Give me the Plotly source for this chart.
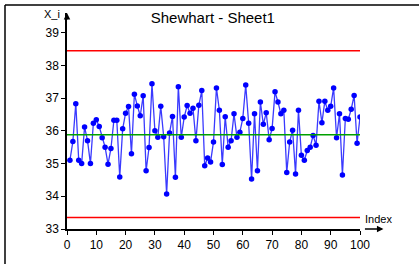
import plotly.graph_objects as go

index = list(range(1, 101))
values = [
    35.1, 35.67, 36.83, 35.1, 35.0, 36.12, 35.7, 35.0, 36.23, 36.34,
    36.13, 35.79, 35.5, 34.98, 35.46, 36.32, 36.32, 34.59, 36.06, 36.54,
    36.74, 35.3, 37.12, 36.76, 36.46, 37.07, 34.78, 35.49, 37.44, 36.0,
    35.8, 36.75, 35.82, 34.07, 35.93, 36.44, 34.58, 37.35, 35.8, 36.42,
    36.77, 36.54, 36.69, 35.7, 36.78, 37.23, 34.93, 35.17, 35.05, 35.66,
    37.31, 36.63, 34.97, 36.43, 35.5, 35.7, 36.52, 35.8, 35.96, 36.38,
    37.4, 36.23, 34.53, 36.52, 34.78, 36.88, 36.2, 36.55, 35.73, 36.07,
    37.19, 36.88, 36.52, 36.63, 34.73, 35.66, 36.02, 34.68, 36.63, 35.25,
    35.1, 35.4, 35.5, 35.86, 35.56, 36.9, 36.25, 36.9, 36.63, 36.75,
    37.31, 35.79, 36.52, 34.65, 36.38, 36.35, 36.66, 37.08, 35.62, 36.42,
]
ucl = 38.45
center = 35.88
lcl = 33.35
limit_x = [0, 100]
x_ticks = [0, 10, 20, 30, 40, 50, 60, 70, 80, 90, 100]
y_ticks = [33, 34, 35, 36, 37, 38, 39]

FONT = "Liberation Sans, Arial, sans-serif"

fig = go.Figure()
fig.add_trace(go.Scatter(x=limit_x, y=[ucl, ucl], mode="lines",
                         line=dict(color="#ff0000", width=1.5), hoverinfo="skip"))
fig.add_trace(go.Scatter(x=limit_x, y=[lcl, lcl], mode="lines",
                         line=dict(color="#ff0000", width=1.5), hoverinfo="skip"))
fig.add_trace(go.Scatter(x=index, y=values, mode="lines+markers",
                         line=dict(color="#3a3aff", width=1.3),
                         marker=dict(color="#0000ff", size=5.5)))
fig.add_trace(go.Scatter(x=limit_x, y=[center, center], mode="lines",
                         line=dict(color="#00a000", width=1.5), hoverinfo="skip"))

fig.update_layout(
    width=419, height=264,
    margin=dict(l=67, r=59, t=13, b=35, pad=0),
    paper_bgcolor="white", plot_bgcolor="white",
    showlegend=False,
    font=dict(family=FONT, size=12, color="#000000"),
    title=dict(text="Shewhart - Sheet1", x=0.508, xref="container",
               y=1 - 18 / 264, yref="container", yanchor="middle", xanchor="center",
               font=dict(family=FONT, size=15, color="#000000")),
    xaxis=dict(range=[0, 100], tickvals=x_ticks, showgrid=False, zeroline=False,
               showline=True, linecolor="#000000", linewidth=1.5,
               ticks="outside", ticklen=4, tickcolor="#000000",
               tickfont=dict(family=FONT, size=12)),
    yaxis=dict(range=[33, 39.6], tickvals=y_ticks, showgrid=False, zeroline=False,
               showline=True, linecolor="#000000", linewidth=1.5,
               ticks="outside", ticklen=4, tickcolor="#000000",
               tickfont=dict(family=FONT, size=12)),
)

# arrows on axes
fig.add_annotation(x=0, y=39.6, xref="x", yref="y", ax=0, ay=8, text="",
                   showarrow=True, arrowhead=2, arrowsize=1, arrowwidth=1.3,
                   arrowcolor="#000000")
fig.add_annotation(x=1.08, y=0, xref="paper", yref="paper", ax=-20, ay=0, text="",
                   showarrow=True, arrowhead=2, arrowsize=1, arrowwidth=1.3,
                   arrowcolor="#000000")
# axis titles
fig.add_annotation(x=1.062, y=(228.7 - 219) / 215.7, xref="paper", yref="paper",
                   text="Index", showarrow=False, font=dict(family=FONT, size=11),
                   xanchor="center", yanchor="middle")
fig.add_annotation(x=(52 - 67) / 293, y=(228.7 - 14) / 215.7, xref="paper", yref="paper",
                   text="X_i", showarrow=False, font=dict(family=FONT, size=11),
                   xanchor="center", yanchor="middle")

# outer frame (top and left edges visible)
px = lambda v: (v - 67) / 293
py = lambda v: (228.7 - v) / 215.7
fig.add_shape(type="line", xref="paper", yref="paper", x0=px(5), x1=px(425),
              y0=py(5), y1=py(5), line=dict(color="#000000", width=1.5))
fig.add_shape(type="line", xref="paper", yref="paper", x0=px(5), x1=px(5),
              y0=py(5), y1=py(270), line=dict(color="#000000", width=1.5))

fig.write_html("out.html", config={"displayModeBar": False},
               post_script="document.body.style.margin='0';document.body.style.overflow='hidden';")
